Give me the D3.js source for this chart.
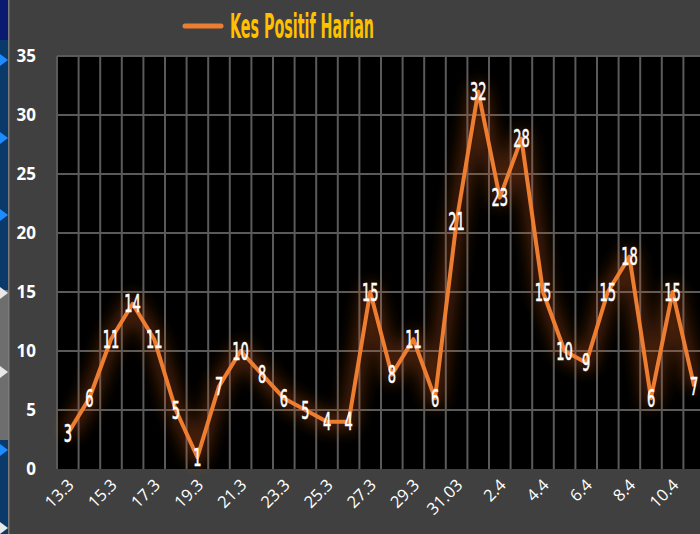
<!DOCTYPE html>
<html>
<head>
<meta charset="utf-8">
<style>
body { margin: 0; background: #404040; overflow: hidden; }
svg { display: block; }
</style>
</head>
<body>
<svg width="700" height="534"></svg>
<script src="https://cdn.jsdelivr.net/npm/d3@7"></script>
<script>

// data (chart is cropped at the right edge)
var dates = ["13.3","14.3","15.3","16.3","17.3","18.3","19.3","20.3","21.3","22.3",
             "23.3","24.3","25.3","26.3","27.3","28.3","29.3","30.3","31.03","1.4",
             "2.4","3.4","4.4","5.4","6.4","7.4","8.4","9.4","10.4","11.4"];
var cases = [3,6,11,14,11,5,1,7,10,8,
             6,5,4,4,15,8,11,6,21,32,
             23,28,15,10,9,15,18,6,15,7];
var yTicks = [0,5,10,15,20,25,30,35];
var seriesName = "Kes Positif Harian";

var opts = {
  left: 57, top: 56, bottom: 469,
  band: 21.6,
  line: "#ED7D31",
  grid: "#5a5a5a",
  title: "#FFC000",
  narrow: "'Liberation Sans Narrow', 'DejaVu Sans Condensed', sans-serif"
};

var svg = d3.select("svg"),
    width = +svg.attr("width"),
    height = +svg.attr("height");

svg.append("rect").attr("width", width).attr("height", height).attr("fill", "#404040");

var defs = svg.append("defs");
defs.append("filter").attr("id", "glow")
    .attr("x", "-20%").attr("y", "-20%").attr("width", "140%").attr("height", "140%")
  .append("feGaussianBlur").attr("stdDeviation", 8);

var x = d3.scaleBand()
    .domain(dates)
    .range([opts.left, opts.left + dates.length * opts.band]);

var y = d3.scaleLinear()
    .domain([0, 35])
    .range([opts.bottom, opts.top]);

// plot area
svg.append("rect")
    .attr("x", opts.left).attr("y", opts.top)
    .attr("width", x.range()[1] - opts.left)
    .attr("height", opts.bottom - opts.top)
    .attr("fill", "#000");

var grid = svg.append("g")
    .attr("stroke", opts.grid)
    .attr("stroke-width", 2);

grid.selectAll("line.h")
    .data(yTicks.slice(1))
  .enter().append("line")
    .attr("class", "h")
    .attr("x1", opts.left).attr("x2", x.range()[1])
    .attr("y1", function(d) { return y(d); })
    .attr("y2", function(d) { return y(d); });

grid.selectAll("line.v")
    .data(dates)
  .enter().append("line")
    .attr("class", "v")
    .attr("x1", function(d) { return x(d); })
    .attr("x2", function(d) { return x(d); })
    .attr("y1", opts.top).attr("y2", opts.bottom);

// y axis labels
svg.append("g")
  .selectAll("text")
    .data(yTicks)
  .enter().append("text")
    .attr("x", 36)
    .attr("y", function(d) { return y(d); })
    .attr("dy", "0.36em")
    .attr("text-anchor", "end")
    .attr("fill", "#fff")
    .attr("font-family", "'Open Sans', sans-serif")
    .attr("font-weight", "bold")
    .attr("font-size", 17)
    .text(function(d) { return d; });

// x axis labels, every second date
svg.append("g")
  .selectAll("text")
    .data(dates.filter(function(d, i) { return i % 2 === 0; }))
  .enter().append("text")
    .attr("transform", function(d) {
      return "translate(" + (x(d) + x.bandwidth() / 2 + 7) + ",486) rotate(-45)";
    })
    .attr("text-anchor", "end")
    .attr("fill", "#fff")
    .attr("font-family", "'Open Sans', sans-serif")
    .attr("font-size", 16.5)
    .text(function(d) { return d; });

// the line, with its glow
var line = d3.line()
    .x(function(d, i) { return x(dates[i]) + x.bandwidth() / 2; })
    .y(function(d) { return y(d); });

svg.append("path")
    .datum(cases)
    .attr("d", line)
    .attr("fill", "none")
    .attr("stroke", "#c85a10")
    .attr("stroke-opacity", 0.35)
    .attr("stroke-width", 18)
    .attr("stroke-linejoin", "round")
    .attr("filter", "url(#glow)");

svg.append("path")
    .datum(cases)
    .attr("d", line)
    .attr("fill", "none")
    .attr("stroke", opts.line)
    .attr("stroke-width", 4)
    .attr("stroke-linejoin", "round");

// data labels
svg.append("g")
  .selectAll("text")
    .data(cases)
  .enter().append("text")
    .attr("transform", function(d, i) {
      return "translate(" + (x(dates[i]) + x.bandwidth() / 2) + "," + y(d) + ") scale(0.6,1)";
    })
    .attr("dy", "0.36em")
    .attr("text-anchor", "middle")
    .attr("fill", "#fff")
    .attr("font-family", opts.narrow)
    .attr("font-size", 24)
    .attr("stroke", "#fff")
    .attr("stroke-width", 0.6)
    .text(function(d) { return d; });

// legend
var legend = svg.append("g");
legend.append("line")
    .attr("x1", 185).attr("x2", 221)
    .attr("y1", 26).attr("y2", 26)
    .attr("stroke", opts.line)
    .attr("stroke-width", 5)
    .attr("stroke-linecap", "round");
legend.append("text")
    .attr("x", 230).attr("y", 38)
    .attr("textLength", 144)
    .attr("lengthAdjust", "spacingAndGlyphs")
    .attr("fill", opts.title)
    .attr("font-family", opts.narrow)
    .attr("font-weight", "bold")
    .attr("font-size", 34)
    .text(seriesName);

// the cut-off strip at the left edge
var strip = svg.append("g");
strip.append("rect").attr("x", 0).attr("y", 0).attr("width", 8).attr("height", height).attr("fill", "#0a3a6a");
strip.append("rect").attr("x", 0).attr("y", 0).attr("width", 8).attr("height", 40).attr("fill", "#0a1a70");
strip.append("rect").attr("x", 0).attr("y", 290).attr("width", 8).attr("height", 150).attr("fill", "#6e6e6e");
strip.append("rect").attr("x", 8).attr("y", 0).attr("width", 1.5).attr("height", height).attr("fill", "#7a7a7a");
var marks = [{y: 60, c: "#1e8cff"}, {y: 138, c: "#1e8cff"}, {y: 215, c: "#1e8cff"},
             {y: 293, c: "#e8e8e8"}, {y: 372, c: "#e8e8e8"}, {y: 450, c: "#1e8cff"},
             {y: 528, c: "#e8e8e8"}];
strip.selectAll("path")
    .data(marks)
  .enter().append("path")
    .attr("d", function(d) { return "M0," + (d.y - 6) + "L8," + d.y + "L0," + (d.y + 6) + "Z"; })
    .attr("fill", function(d) { return d.c; });

</script>
</body>
</html>
